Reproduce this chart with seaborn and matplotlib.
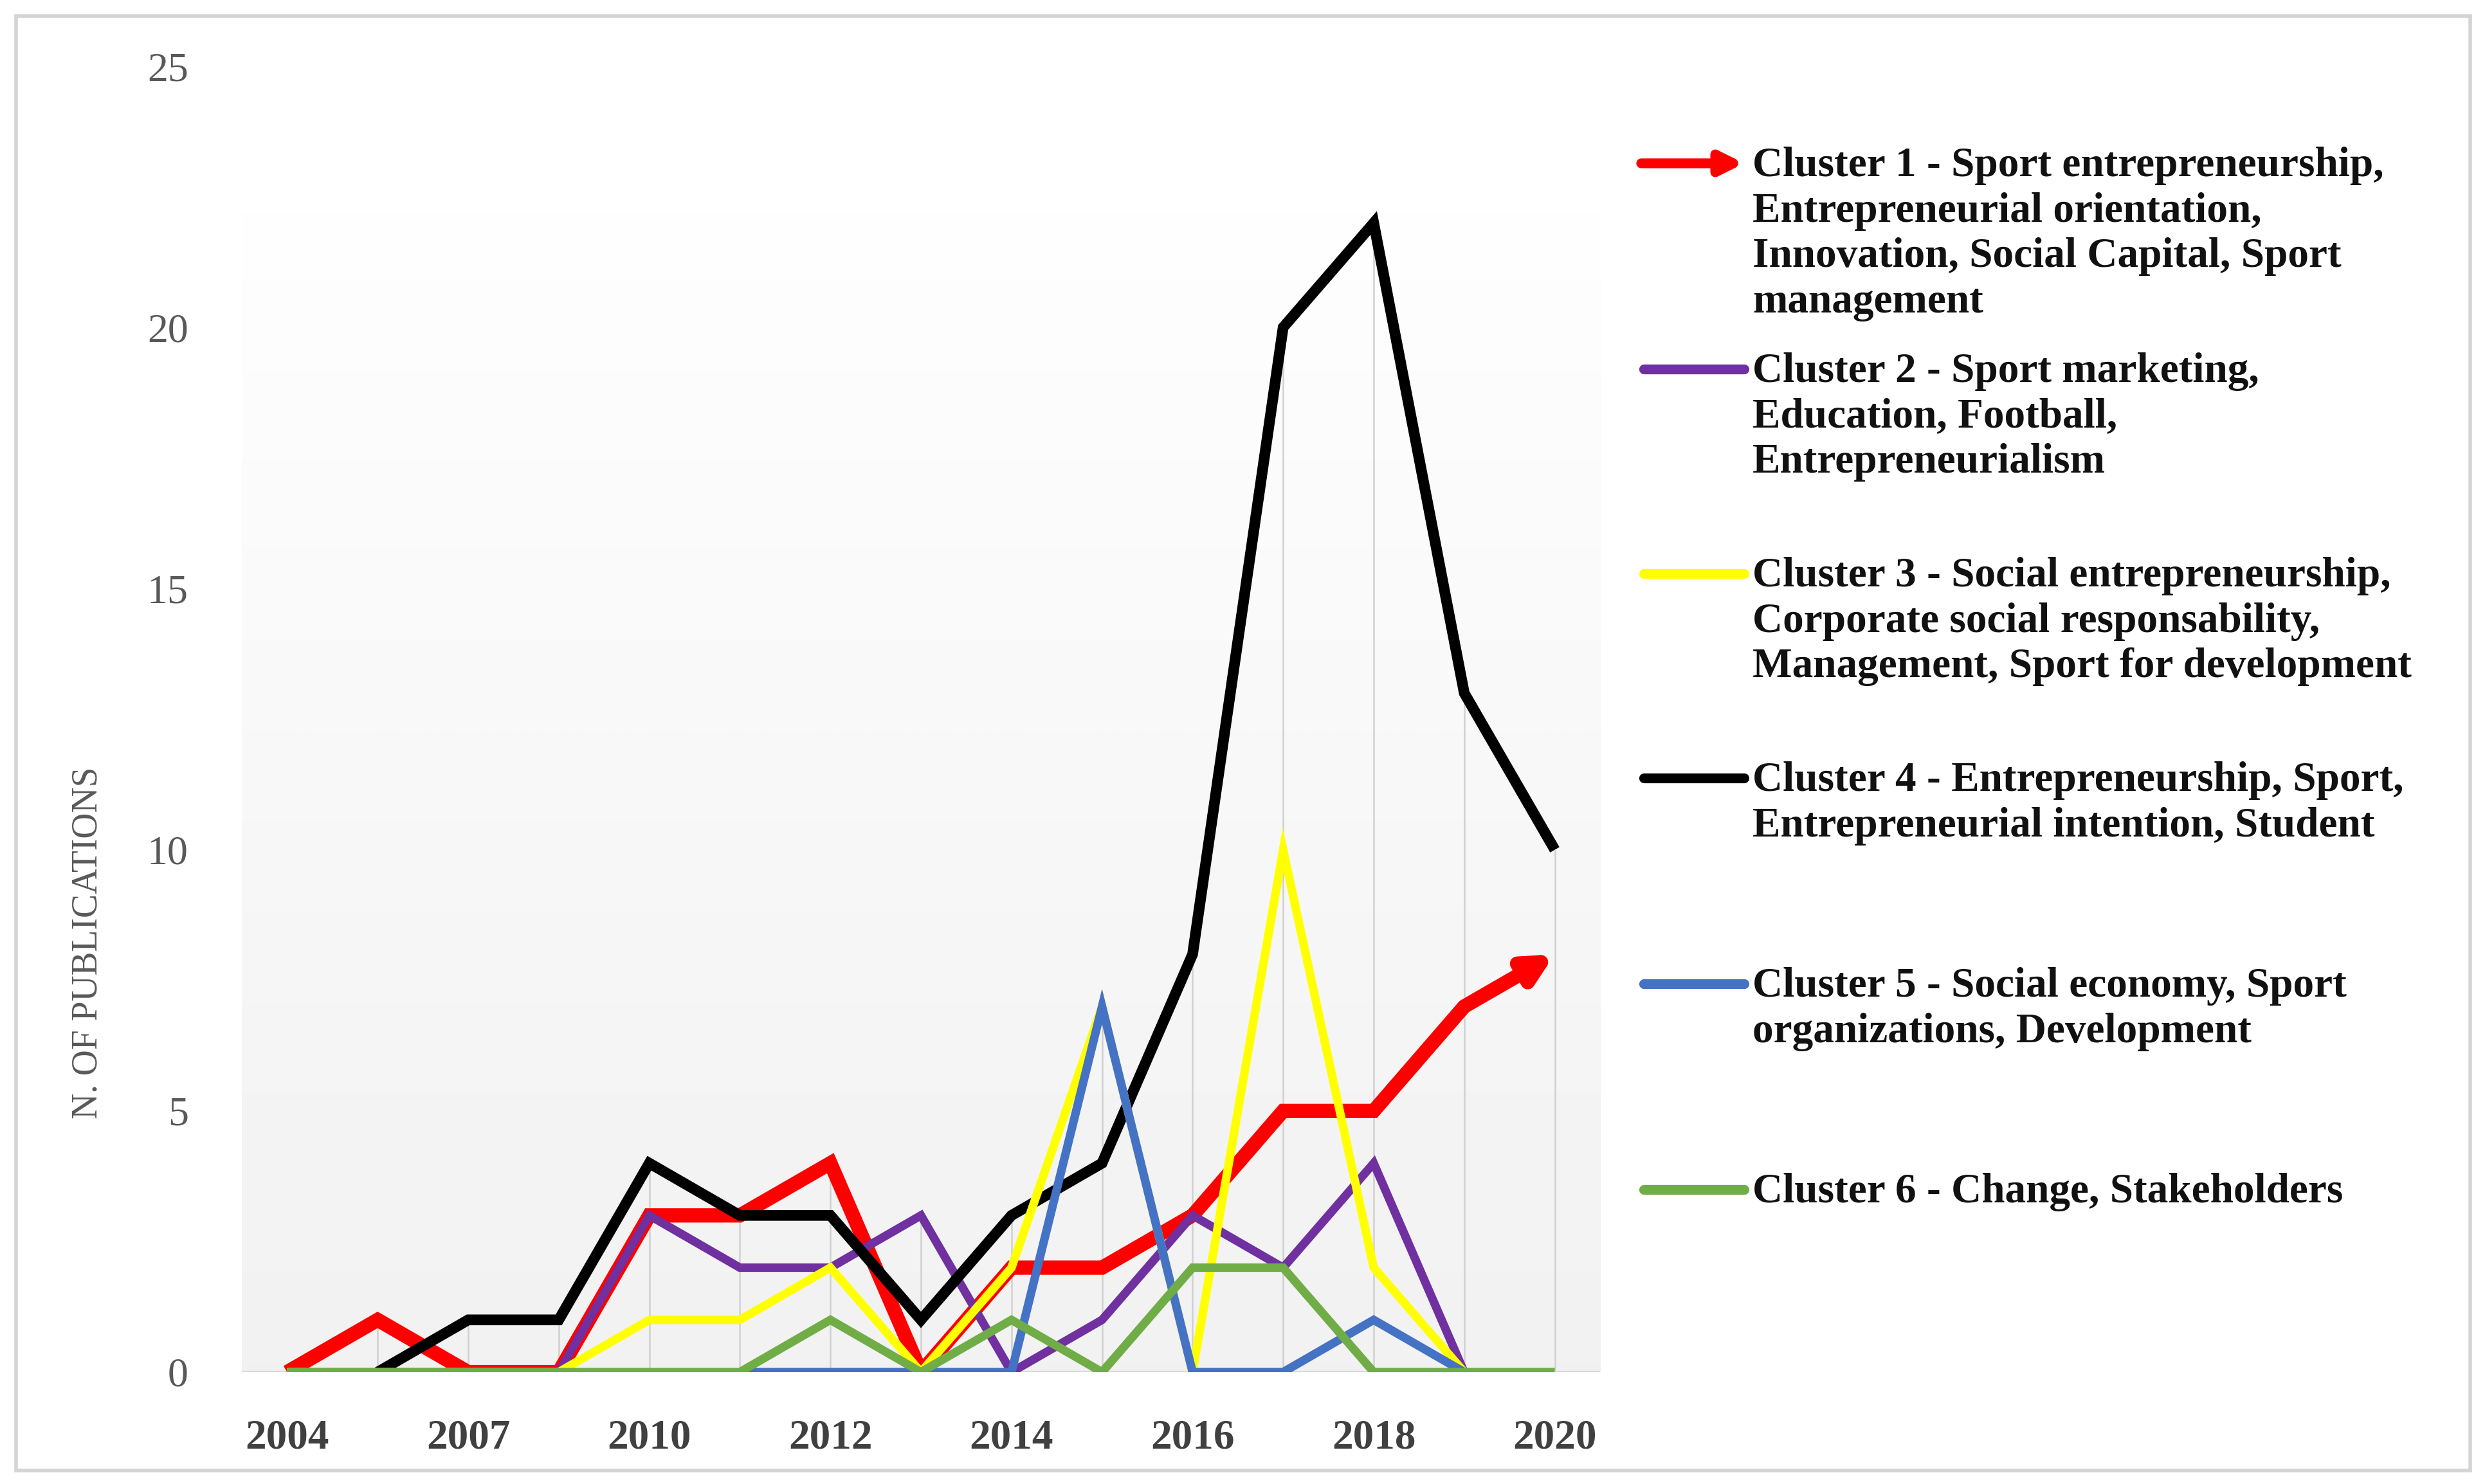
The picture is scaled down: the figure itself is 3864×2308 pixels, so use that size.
import numpy as np
import matplotlib
matplotlib.use("Agg")
import matplotlib.pyplot as plt
import seaborn as sns
from matplotlib.lines import Line2D
from matplotlib.patches import Rectangle, FancyArrowPatch

# ---- data ----
years = ["2004", "2005", "2007", "2009", "2010", "2011", "2012", "2013",
         "2014", "2015", "2016", "2017", "2018", "2019", "2020"]
shown_years = ["2004", "2007", "2010", "2012", "2014", "2016", "2018", "2020"]

nan = np.nan
cluster1 = [0, 1, 0, 0, 3, 3, 4, 0, 2, 2, 3, 5, 5, 7, 8]
cluster2 = [0, 0, 0, 0, 3, 2, 2, 3, 0, 1, 3, 2, 4, 0, nan]
cluster3 = [0, 0, 0, 0, 1, 1, 2, 0, 2, 7, 0, 10, 2, 0, nan]
cluster4 = [nan, 0, 1, 1, 4, 3, 3, 1, 3, 4, 8, 20, 22, 13, 10]
cluster5 = [nan, nan, nan, nan, nan, 0, 0, 0, 0, 7, 0, 0, 1, 0, nan]
cluster6 = [0, 0, 0, 0, 0, 0, 1, 0, 1, 0, 2, 2, 0, 0, 0]

labels = [
    "Cluster 1 - Sport entrepreneurship,\nEntrepreneurial orientation,\nInnovation, Social Capital, Sport\nmanagement",
    "Cluster 2 - Sport marketing,\nEducation, Football,\nEntrepreneurialism",
    "Cluster 3 - Social entrepreneurship,\nCorporate social responsability,\nManagement, Sport for development",
    "Cluster 4 - Entrepreneurship, Sport,\nEntrepreneurial intention, Student",
    "Cluster 5 - Social economy, Sport\norganizations, Development",
    "Cluster 6 - Change, Stakeholders",
]
colors = ["#ff0000", "#7030a0", "#ffff00", "#000000", "#4472c4", "#70ad47"]

# ---- style ----
sns.set_theme(style="white")
plt.rcParams["font.family"] = ["Liberation Serif", "DejaVu Serif"]

W, H = 3864, 2308
fig = plt.figure(figsize=(W / 100, H / 100), dpi=100)
ax = fig.add_axes([376 / W, 1 - 2134 / H, 2112 / W, 2031 / H])

x = np.arange(len(years))

# plot-area gradient (Excel style)
grad = np.linspace(0.995, 0.945, 256)[:, None]
ax.imshow(grad, extent=(-0.5, len(years) - 0.5, 0, 22.2), aspect="auto",
          cmap="gray", vmin=0, vmax=1, zorder=0, interpolation="bicubic")

# drop lines to the highest series
series = [cluster1, cluster2, cluster3, cluster4, cluster5, cluster6]
top = np.nanmax(np.array(series, dtype=float), axis=0)
ax.vlines(x, 0, top, color="#d0d0d0", lw=1.8, zorder=1)
ax.hlines(0, -0.5, len(years) - 0.5, color="#d9d9d9", lw=3, zorder=1)

# lines
c1 = np.array(cluster1, dtype=float)
sns.lineplot(x=x[:-1], y=c1[:-1], color=colors[0], linewidth=16, ax=ax, zorder=3)
ax.annotate("", xy=(x[-1], c1[-1]), xytext=(x[-2], c1[-2]), zorder=3,
            arrowprops=dict(arrowstyle="-|>", color=colors[0], lw=16,
                            mutation_scale=60, shrinkA=0, shrinkB=0))
sns.lineplot(x=x, y=cluster2, color=colors[1], linewidth=9.5, ax=ax, zorder=4)
sns.lineplot(x=x, y=cluster4, color=colors[3], linewidth=12, ax=ax, zorder=5)
sns.lineplot(x=x, y=cluster3, color=colors[2], linewidth=9.5, ax=ax, zorder=6)
sns.lineplot(x=x, y=cluster5, color=colors[4], linewidth=9.5, ax=ax, zorder=7)
sns.lineplot(x=x, y=cluster6, color=colors[5], linewidth=9.5, ax=ax, zorder=8)
for ln in ax.get_lines():
    ln.set_solid_joinstyle("miter")
    ln.set_solid_capstyle("butt")

ax.set_xlim(-0.5, len(years) - 0.5)
ax.set_ylim(0, 25)
ax.set_yticks([0, 5, 10, 15, 20, 25])
ax.tick_params(axis="y", labelsize=46, labelcolor="#595959", length=0, pad=60)
ax.set_xticks([years.index(y) for y in shown_years])
ax.set_xticklabels(shown_years, fontsize=47, fontweight="bold", color="#404040")
ax.tick_params(axis="x", length=0, pad=52)
ax.set_xlabel("")
ax.set_ylabel("")
for s in ax.spines.values():
    s.set_visible(False)
ax.grid(False)

fig.text(137 / W, 1 - 1466 / H, "N. OF PUBLICATIONS", rotation=90,
         ha="center", va="center", fontsize=40, color="#595959")

# legend built by hand (entries evenly spaced, text top aligned)
entry_y = [254, 574, 892, 1210, 1530, 1850]
for lab, col, yy in zip(labels, colors, entry_y):
    yf = 1 - yy / H
    if col == colors[0]:
        fig.add_artist(FancyArrowPatch((2552 / W, yf), (2712 / W, yf),
                                       transform=fig.transFigure,
                                       arrowstyle="-|>", color=col, lw=11,
                                       mutation_scale=50, shrinkA=0, shrinkB=0))
    else:
        fig.add_artist(Line2D([2556 / W, 2712 / W], [yf, yf],
                              transform=fig.transFigure, color=col, lw=11,
                              solid_capstyle="round"))
    fig.text(2725 / W, 1 - (yy - 26) / H, lab, ha="left", va="top",
             fontsize=47, fontweight="bold", color="#111111", linespacing=1.23)

# outer border
fig.add_artist(Rectangle((25 / W, 1 - 2287 / H), (3841 - 25) / W, (2287 - 25) / H,
                         transform=fig.transFigure, fill=False,
                         ec="#d4d4d4", lw=4))

fig.savefig("out.png", dpi=100)
plt.close(fig)
